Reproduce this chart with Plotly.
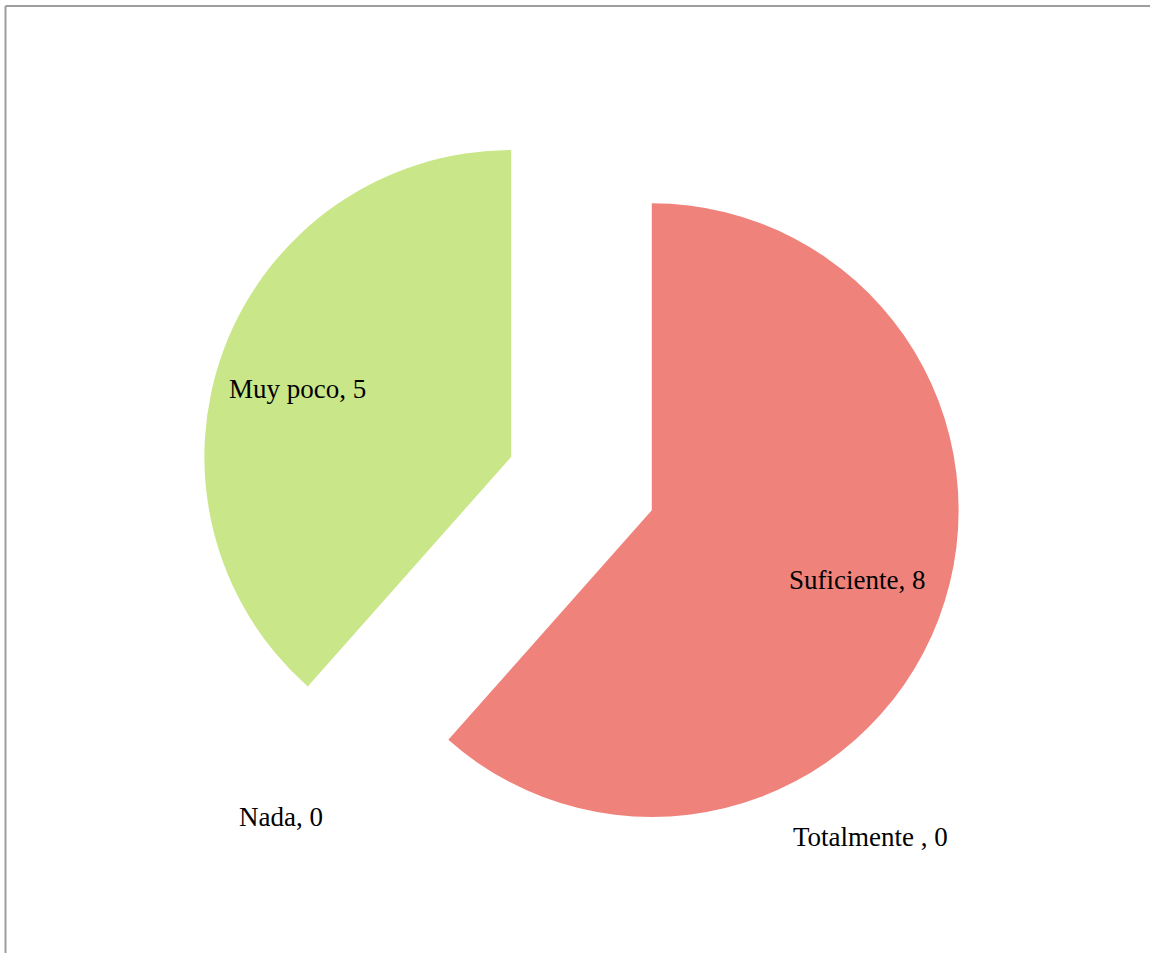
import plotly.graph_objects as go

categories = ["Suficiente", "Totalmente ", "Nada", "Muy poco"]
values = [8, 0, 0, 5]
colors = ["#EF837B", "#FFFFFF", "#FFFFFF", "#C9E688"]
label_x = [857, 870, 281, 297]   # label centre positions (pixels)
label_y = [580, 837, 817, 389]

W, H = 1150, 953

fig = go.Figure(go.Pie(
    labels=categories,
    values=values,
    sort=False,
    direction="clockwise",
    rotation=0,
    pull=[0.245, 0, 0, 0.245],
    marker=dict(colors=colors, line=dict(width=0)),
    textinfo="none",
    hoverinfo="label+value",
    domain=dict(x=[199.5 / W, 963.5 / W], y=[1 - 865.5 / H, 1 - 101.5 / H]),
    showlegend=False,
))

for c, v, lx, ly in zip(categories, values, label_x, label_y):
    fig.add_annotation(
        x=lx / W, y=1 - ly / H, xref="paper", yref="paper",
        text=f"{c}, {v}", showarrow=False,
        xanchor="center", yanchor="middle",
        font=dict(family="Liberation Serif", size=27, color="#000000"),
    )

# frame lines (top and left)
fig.add_shape(type="line", xref="paper", yref="paper",
              x0=5.5 / W, x1=1, y0=1 - 6 / H, y1=1 - 6 / H,
              line=dict(color="#9E9E9E", width=2))
fig.add_shape(type="line", xref="paper", yref="paper",
              x0=5.5 / W, x1=5.5 / W, y0=0, y1=1 - 6 / H,
              line=dict(color="#9E9E9E", width=2))

fig.update_layout(
    width=W, height=H,
    margin=dict(l=0, r=0, t=0, b=0),
    paper_bgcolor="white", plot_bgcolor="white",
)

fig.write_html("out.html", config={"displayModeBar": False},
               post_script="document.body.style.margin='0px';")
